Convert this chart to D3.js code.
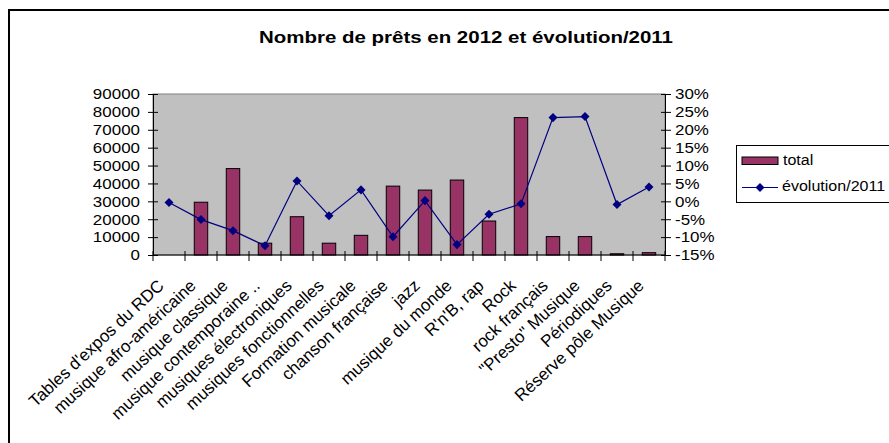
<!DOCTYPE html>
<html><head><meta charset="utf-8">
<script src="https://cdn.jsdelivr.net/npm/d3@7"></script>
<style>body{margin:0;background:#fff}svg{display:block}</style>
</head><body>
<svg id="c" width="889" height="443"></svg>
<script>
const categories = ["Tables d'expos du RDC","musique afro-américaine","musique classique","musique contemporaine ..","musiques électroniques","musiques fonctionnelles","Formation musicale","chanson française","jazz","musique du monde","R'n'B, rap","Rock","rock français","\"Presto\" Musique","Périodiques","Réserve pôle Musique"];
const totals = [0, 29500, 48300, 6600, 21400, 6600, 11000, 38500, 36300, 41900, 19000, 76800, 10300, 10300, 700, 1300];
const evolution = [-0.3, -5.1, -8.2, -12.4, 5.7, -4.0, 3.2, -9.9, 0.2, -12.1, -3.6, -0.7, 23.4, 23.7, -0.9, 4.0];
const leftTicks = [0,10000,20000,30000,40000,50000,60000,70000,80000,90000];
const rightTicks = [-15,-10,-5,0,5,10,15,20,25,30];
const title = "Nombre de prêts en 2012 et évolution/2011";
const seriesNames = ["total","évolution/2011"];

const svg = d3.select("#c");
const FONT = "'Liberation Sans', Arial, sans-serif";
const L = 153, R = 665, T = 94, B = 255;
const SX = 1.13;

svg.append("rect").attr("x",9).attr("y",10).attr("width",900).attr("height",460)
  .attr("fill","#fff").attr("stroke","#000").attr("stroke-width",2);

svg.append("text").attr("x",466).attr("y",43).attr("text-anchor","middle")
  .attr("font-family",FONT).attr("font-weight","bold").attr("font-size",16.5)
  .attr("textLength",414).attr("lengthAdjust","spacingAndGlyphs").text(title);

const x = d3.scaleBand().domain(categories).range([L,R]).paddingInner(0).paddingOuter(0);
const xi = d3.scaleLinear().domain([0,categories.length]).range([L,R]);
const y = d3.scaleLinear().domain([0,90000]).range([B,T]);
const y2 = d3.scaleLinear().domain([-15,30]).range([B,T]);

svg.append("rect").attr("x",L).attr("y",T).attr("width",R-L).attr("height",B-T)
  .attr("fill","#c0c0c0").attr("stroke","#808080").attr("stroke-width",1);

const bw = x.bandwidth()*0.42;
svg.append("g").selectAll("rect").data(totals).join("rect")
  .attr("x",(d,i)=>x(categories[i])+x.bandwidth()/2-bw/2)
  .attr("y",d=>y(d)).attr("width",bw).attr("height",d=>B-y(d))
  .attr("fill","#993366").attr("stroke","#000").attr("stroke-width",1)
  .attr("display",d=>d>0?null:"none");

// left axis
const gl = svg.append("g").attr("transform",`translate(${L},0)`)
  .call(d3.axisLeft(y).tickValues(leftTicks).tickFormat(d3.format("d")).tickSize(5));
gl.selectAll(".tick line").attr("x2",-5).attr("x1",5);
gl.selectAll(".tick text").attr("x",0).attr("text-anchor","end").attr("transform",`translate(-13,0) scale(${SX},1)`);
// right axis
const gr = svg.append("g").attr("transform",`translate(${R},0)`)
  .call(d3.axisRight(y2).tickValues(rightTicks).tickFormat(d=>d+"%").tickSize(5));
gr.selectAll(".tick line").attr("x1",-4).attr("x2",6);
gr.selectAll(".tick text").attr("x",0).attr("text-anchor","start").attr("transform",`translate(10,0) scale(${SX},1)`);
// bottom axis
const gb = svg.append("g").attr("transform",`translate(0,${B})`)
  .call(d3.axisBottom(x).tickSize(0).tickPadding(0));
gb.selectAll(".tick text").attr("text-anchor","end").attr("x",0).attr("y",0).attr("dy",null)
  .attr("transform","translate(-4,32) rotate(-43)");
svg.append("g").selectAll("line").data(d3.range(categories.length+1)).join("line")
  .attr("x1",d=>xi(d)).attr("x2",d=>xi(d)).attr("y1",B-4).attr("y2",B+6)
  .attr("stroke","#000");
[gl,gr,gb].forEach(g=>{
  g.selectAll("text").attr("font-family",FONT).attr("font-size",15).attr("fill","#000");
  g.select(".domain").attr("stroke","#000");
  g.selectAll(".tick line").attr("stroke","#000");
});
gb.selectAll("text").attr("font-size",17);
gb.select(".domain").attr("d",`M${L},0H${R}`);

// line
const line = d3.line().x((d,i)=>x(categories[i])+x.bandwidth()/2).y(d=>y2(d));
svg.append("path").datum(evolution).attr("d",line).attr("fill","none")
  .attr("stroke","#000080").attr("stroke-width",1.2);
const diamond = d3.symbol().type(d3.symbolDiamond2).size(52);
svg.append("g").selectAll("path").data(evolution).join("path")
  .attr("d",diamond)
  .attr("transform",(d,i)=>`translate(${x(categories[i])+x.bandwidth()/2},${y2(d)})`)
  .attr("fill","#000080");

// legend
const lg = svg.append("g");
lg.append("rect").attr("x",736.5).attr("y",145.5).attr("width",170).attr("height",57)
  .attr("fill","#fff").attr("stroke","#000").attr("stroke-width",1);
lg.append("rect").attr("x",742).attr("y",157).attr("width",36).attr("height",7.5)
  .attr("fill","#993366").attr("stroke","#000");
lg.append("text").attr("transform",`translate(783,165) scale(1.07,1)`).attr("font-family",FONT).attr("font-size",15).text(seriesNames[0]);
lg.append("line").attr("x1",742).attr("x2",778).attr("y1",187.5).attr("y2",187.5).attr("stroke","#000080").attr("stroke-width",1.2);
lg.append("path").attr("d",diamond).attr("transform","translate(760,187.5)").attr("fill","#000080");
lg.append("text").attr("transform",`translate(782,191) scale(1.07,1)`).attr("font-family",FONT).attr("font-size",15).text(seriesNames[1]);
</script>
</body></html>
